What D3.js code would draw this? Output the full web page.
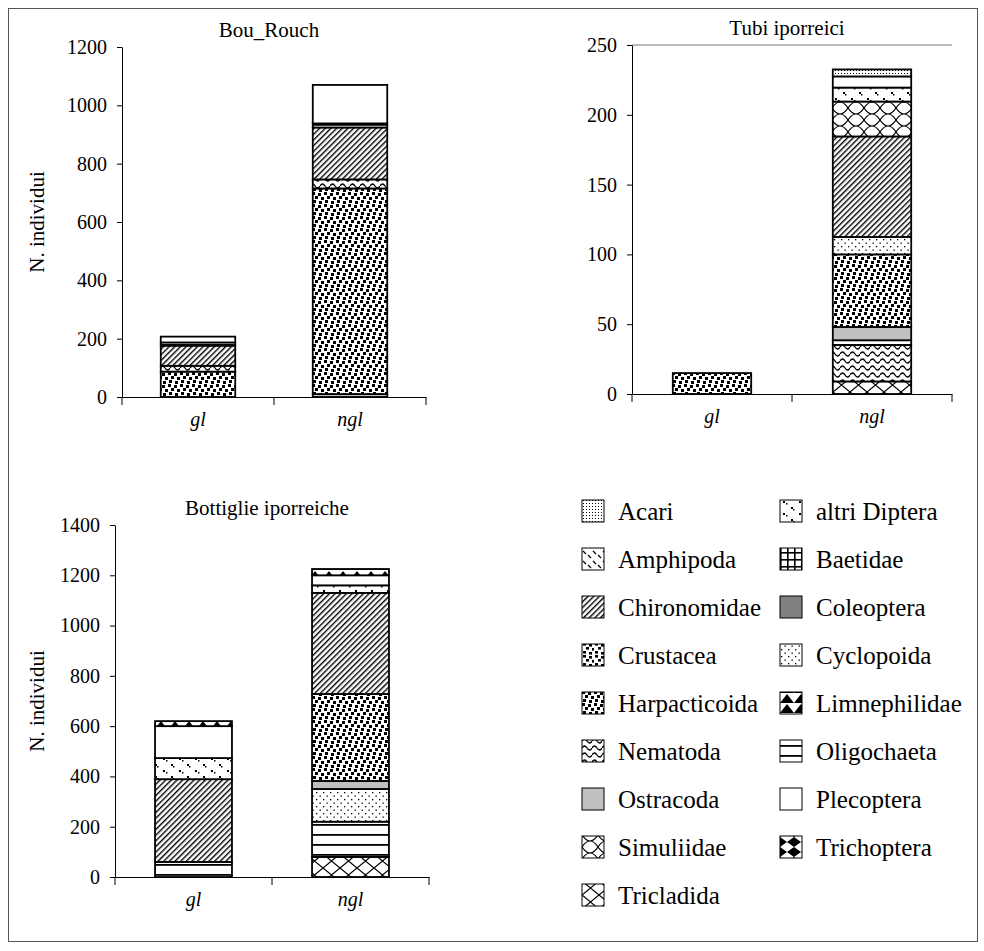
<!DOCTYPE html>
<html>
<head>
<meta charset="utf-8">
<script src="https://cdn.jsdelivr.net/npm/d3@7"></script>
<style>
  body { margin: 0; background: #fff; }
  text { font-family: "Liberation Serif", "Times New Roman", serif; fill: #000; }
</style>
</head>
<body>
<svg id="fig" width="984" height="951"></svg>
<script>
// legend taxa (alphabetical, as in the reference legend)
const taxa = ["Acari", "altri Diptera", "Amphipoda", "Baetidae", "Chironomidae", "Coleoptera",
  "Crustacea", "Cyclopoida", "Harpacticoida", "Limnephilidae", "Nematoda", "Oligochaeta",
  "Ostracoda", "Plecoptera", "Simuliidae", "Trichoptera", "Tricladida"];

const categories = ["gl", "ngl"];

// Bou_Rouch, stacked bottom -> top
const bouOrder = ["Ostracoda", "Harpacticoida", "Nematoda", "Chironomidae", "Oligochaeta", "Plecoptera"];
const bouGl = [0, 87, 20, 69, 11, 20];
const bouNgl = [10, 705, 31, 178, 14, 132];
const bouTicks = [0, 200, 400, 600, 800, 1000, 1200];

// Tubi iporreici
const tubiOrder = ["Tricladida", "Nematoda", "Oligochaeta", "Ostracoda", "Harpacticoida", "Cyclopoida",
  "Chironomidae", "Simuliidae", "altri Diptera", "Plecoptera", "Acari"];
const tubiGl = [0, 0, 0, 0, 15, 0, 0, 0, 0, 0, 0];
const tubiNgl = [9, 26, 3.5, 9.5, 52, 12.5, 72, 25, 10, 8, 5];
const tubiTicks = [0, 50, 100, 150, 200, 250];

// Bottiglie iporreiche
const botOrder = ["Tricladida", "Oligochaeta", "Cyclopoida", "Ostracoda", "Harpacticoida",
  "Chironomidae", "altri Diptera", "Plecoptera", "Limnephilidae"];
const botGl = [0, 60, 0, 0, 0, 329, 84, 127, 20];
const botNgl = [80, 140, 130, 32, 346, 402, 30, 40, 25];
const botTicks = [0, 200, 400, 600, 800, 1000, 1200, 1400];

const svg = d3.select("#fig");
const defs = svg.append("defs");
const pid = name => "pat-" + name.replace(/\s+/g, "_");

// fill patterns imitating the old spreadsheet hatches
function pattern(name, w, h, draw, bg = "#fff") {
  const p = defs.append("pattern").attr("id", pid(name))
    .attr("patternUnits", "userSpaceOnUse").attr("width", w).attr("height", h);
  p.append("rect").attr("width", w).attr("height", h).attr("fill", bg);
  if (draw) draw(p);
  return p;
}
const sq = (p, x, y, w, h) => p.append("rect").attr("x", x).attr("y", y).attr("width", w).attr("height", h).attr("fill", "#000");
const ln = (p, d, sw = 1.2) => p.append("path").attr("d", d).attr("stroke", "#000").attr("stroke-width", sw).attr("fill", "none");

pattern("Acari", 3, 3, p => sq(p, 1, 1, 1, 1));
pattern("altri Diptera", 16, 12, p => { sq(p, 3, 2, 2, 2); sq(p, 6, 4, 1.5, 1.5); sq(p, 11, 8, 2, 2); sq(p, 13, 10, 1.5, 1.5); });
pattern("Amphipoda", 10, 10, p => { ln(p, "M1,2 L4,5"); ln(p, "M6,6 L9,9"); });
pattern("Baetidae", 7, 7, p => { sq(p, 0, 0, 7, 1.6); sq(p, 0, 0, 1.6, 7); });
pattern("Chironomidae", 4, 4, p => sq(p, 0, 0, 1.4, 4)).attr("patternTransform", "rotate(45)");
pattern("Coleoptera", 4, 4, null, "#808080");
pattern("Crustacea", 12, 12, p => {
  [[1, 0], [7, 1], [4, 4], [10, 5], [1, 8], [7, 9]].forEach(([a, b]) => sq(p, a, b, 3, 2.6));
});
pattern("Cyclopoida", 7, 7, p => { sq(p, 1, 1, 1.3, 1.3); sq(p, 4.5, 4.5, 1.3, 1.3); });
pattern("Harpacticoida", 12, 12, p => {
  [[0, 0], [6, 1], [3, 4], [9, 5], [1, 8], [7, 9]].forEach(([a, b]) => sq(p, a, b, 3, 3));
});
pattern("Limnephilidae", 14, 10, p => p.append("path").attr("d", "M0,10 L7,1 L14,10 Z").attr("fill", "#000"));
pattern("Nematoda", 10, 7, p => ln(p, "M0,4 Q2.5,0 5,4 T10,4", 1.3));
pattern("Oligochaeta", 10, 10, p => sq(p, 0, 4, 10, 1.8));
pattern("Ostracoda", 4, 4, null, "#c0c0c0");
pattern("Plecoptera", 4, 4, null);
pattern("Simuliidae", 16, 12, p => ln(p, "M0,0 Q8,12 16,0 M0,12 Q8,0 16,12", 1.2));
pattern("Trichoptera", 14, 10, p => p.append("path").attr("d", "M0,0 L7,5 L0,10 Z M14,0 L7,5 L14,10 Z").attr("fill", "#000"));
pattern("Tricladida", 17, 14, p => ln(p, "M0,0 L8.5,7 L17,0 M0,14 L8.5,7 L17,14", 1.2));

// outer frame
svg.append("rect").attr("x", 8.5).attr("y", 8.5).attr("width", 969).attr("height", 933)
  .attr("fill", "none").attr("stroke", "#555");

function drawChart(cfg) {
  const rows = categories.map((c, i) => {
    const r = { cat: c };
    cfg.order.forEach((k, j) => r[k] = cfg.values[i][j]);
    return r;
  });

  const x = d3.scaleBand().domain(categories).range(cfg.xr).paddingInner(0.51).paddingOuter(0.255);
  const y = d3.scaleLinear().domain([0, d3.max(cfg.ticks)]).range(cfg.yr);

  const g = svg.append("g");

  if (cfg.topLine) {
    g.append("line").attr("x1", cfg.xr[0]).attr("x2", cfg.xr[1])
      .attr("y1", y(d3.max(cfg.ticks))).attr("y2", y(d3.max(cfg.ticks)))
      .attr("stroke", "#777");
  }

  const series = d3.stack().keys(cfg.order)(rows);
  g.selectAll("g.layer")
    .data(series)
    .join("g")
    .attr("fill", d => `url(#${pid(d.key)})`)
    .selectAll("rect")
    .data(d => d.filter(s => s[1] - s[0] > 0))
    .join("rect")
    .attr("x", d => x(d.data.cat))
    .attr("width", x.bandwidth())
    .attr("y", d => y(d[1]))
    .attr("height", d => y(d[0]) - y(d[1]))
    .attr("stroke", "#000")
    .attr("stroke-width", 1.8);

  // y axis
  const ya = g.append("g")
    .attr("transform", `translate(${cfg.xr[0]},0)`)
    .call(d3.axisLeft(y).tickValues(cfg.ticks).tickFormat(d3.format("d"))
      .tickSize(5).tickSizeOuter(0).tickPadding(10));
  ya.select(".domain").attr("stroke", "#000");
  ya.selectAll("text").style("font-size", "20px").attr("font-family", null);

  // x axis, tick marks between categories
  const xa = g.append("g")
    .attr("transform", `translate(0,${cfg.yr[0]})`)
    .call(d3.axisBottom(x).tickSize(0).tickPadding(15));
  xa.select(".domain").attr("stroke", "#000");
  xa.selectAll("text").style("font-size", "20px").style("font-style", "italic").attr("font-family", null);
  d3.range(categories.length + 1).forEach(i => {
    const tx = x.range()[0] + i * x.step();
    g.append("line").attr("x1", tx).attr("x2", tx)
      .attr("y1", cfg.yr[0]).attr("y2", cfg.yr[0] + 8).attr("stroke", "#000");
  });

  g.append("text")
    .attr("x", (cfg.xr[0] + cfg.xr[1]) / 2 - 5).attr("y", cfg.yr[1] - 10)
    .attr("text-anchor", "middle").style("font-size", "21px")
    .text(cfg.title);

  if (cfg.ylabel) {
    g.append("text")
      .attr("transform", `translate(44,${(cfg.yr[0] + cfg.yr[1]) / 2}) rotate(-90)`)
      .attr("text-anchor", "middle").style("font-size", "21px")
      .text(cfg.ylabel);
  }
}

drawChart({ title: "Bou_Rouch", order: bouOrder, values: [bouGl, bouNgl], ticks: bouTicks,
  xr: [122, 426], yr: [397, 47], ylabel: "N. individui" });
drawChart({ title: "Tubi iporreici", order: tubiOrder, values: [tubiGl, tubiNgl], ticks: tubiTicks,
  xr: [632, 952], yr: [394, 45], topLine: true });
drawChart({ title: "Bottiglie iporreiche", order: botOrder, values: [botGl, botNgl], ticks: botTicks,
  xr: [115, 429], yr: [877, 525], ylabel: "N. individui" });

// legend: two columns, row-major
const legend = svg.append("g").attr("transform", "translate(582,511)");
const items = legend.selectAll("g")
  .data(taxa)
  .join("g")
  .attr("transform", (d, i) => `translate(${(i % 2) * 198},${Math.floor(i / 2) * 48})`);
items.append("rect")
  .attr("x", 0).attr("y", -11).attr("width", 22).attr("height", 22)
  .attr("fill", d => `url(#${pid(d)})`)
  .attr("stroke", "#000").attr("stroke-width", 1);
items.append("text")
  .attr("x", 36).attr("dy", "0.35em")
  .style("font-size", "25px")
  .text(d => d);
</script>
</body>
</html>
